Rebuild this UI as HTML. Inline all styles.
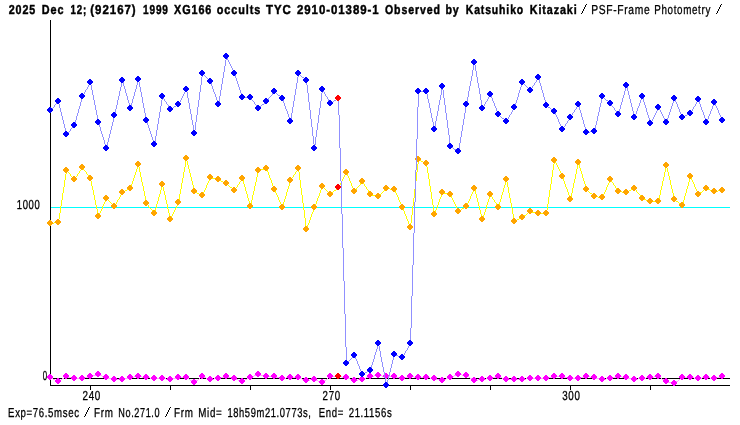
<!DOCTYPE html>
<html><head><meta charset="utf-8"><title>Light curve</title>
<style>
html,body{margin:0;padding:0;background:#fff;}
body{width:740px;height:425px;position:relative;overflow:hidden;font-family:"Liberation Sans",sans-serif;}
</style></head><body>
<svg width="740" height="425" viewBox="0 0 740 425" shape-rendering="crispEdges" style="position:absolute;left:0;top:0;will-change:transform">
<rect width="740" height="425" fill="#fff"/>
<rect x="50" y="20" width="1" height="366" fill="#000"/>
<rect x="50" y="385" width="680" height="1" fill="#000"/>
<rect x="51" y="378" width="679" height="1" fill="#000"/>
<rect x="51" y="207" width="679" height="1" fill="#00ffff"/>
<rect x="90" y="385" width="1" height="5" fill="#000"/>
<rect x="170" y="385" width="1" height="5" fill="#000"/>
<rect x="250" y="385" width="1" height="5" fill="#000"/>
<rect x="330" y="385" width="1" height="5" fill="#000"/>
<rect x="410" y="385" width="1" height="5" fill="#000"/>
<rect x="490" y="385" width="1" height="5" fill="#000"/>
<rect x="570" y="385" width="1" height="5" fill="#000"/>
<rect x="650" y="385" width="1" height="5" fill="#000"/>
<path fill="#ffa0ff" d="M50 377h1v1h-1zM51 378h2v1h-2zM53 379h2v1h-2zM55 380h2v1h-2zM57 381h2v1h-2zM58 381h1v1h-1zM59 380h2v1h-2zM61 379h1v1h-1zM62 378h2v1h-2zM64 377h2v1h-2zM66 376h1v1h-1zM66 376h2v1h-2zM68 377h4v1h-4zM72 378h3v1h-3zM74 378h9v1h-9zM82 378h2v1h-2zM84 377h4v1h-4zM88 376h3v1h-3zM90 376h2v1h-2zM92 375h4v1h-4zM96 374h3v1h-3zM98 374h2v1h-2zM100 375h2v1h-2zM102 376h3v1h-3zM105 377h2v1h-2zM106 377h2v1h-2zM108 378h4v1h-4zM112 379h3v1h-3zM114 379h9v1h-9zM122 379h2v1h-2zM124 378h4v1h-4zM128 377h3v1h-3zM130 377h4v1h-4zM134 376h5v1h-5zM138 376h4v1h-4zM142 377h5v1h-5zM146 377h4v1h-4zM150 378h5v1h-5zM154 378h9v1h-9zM162 378h4v1h-4zM166 379h5v1h-5zM170 379h2v1h-2zM172 378h4v1h-4zM176 377h3v1h-3zM178 377h9v1h-9zM186 377h1v1h-1zM187 378h2v1h-2zM189 379h1v1h-1zM190 380h2v1h-2zM192 381h2v1h-2zM194 382h1v1h-1zM194 382h1v1h-1zM195 381h1v1h-1zM196 380h2v1h-2zM198 379h1v1h-1zM199 378h1v1h-1zM200 377h2v1h-2zM202 376h1v1h-1zM202 376h2v1h-2zM204 377h2v1h-2zM206 378h3v1h-3zM209 379h2v1h-2zM210 379h4v1h-4zM214 378h5v1h-5zM218 378h2v1h-2zM220 377h4v1h-4zM224 376h3v1h-3zM226 376h2v1h-2zM228 377h4v1h-4zM232 378h3v1h-3zM234 378h2v1h-2zM236 379h2v1h-2zM238 380h3v1h-3zM241 381h2v1h-2zM242 381h1v1h-1zM243 380h2v1h-2zM245 379h2v1h-2zM247 378h2v1h-2zM249 377h2v1h-2zM250 377h2v1h-2zM252 376h2v1h-2zM254 375h3v1h-3zM257 374h2v1h-2zM258 374h2v1h-2zM260 375h4v1h-4zM264 376h3v1h-3zM266 376h9v1h-9zM274 376h2v1h-2zM276 377h4v1h-4zM280 378h3v1h-3zM282 378h4v1h-4zM286 377h5v1h-5zM290 377h9v1h-9zM298 377h2v1h-2zM300 378h2v1h-2zM302 379h3v1h-3zM305 380h2v1h-2zM306 380h4v1h-4zM310 379h5v1h-5zM314 379h2v1h-2zM316 380h2v1h-2zM318 381h3v1h-3zM321 382h2v1h-2zM322 382h1v1h-1zM323 381h1v1h-1zM324 380h2v1h-2zM326 379h1v1h-1zM327 378h1v1h-1zM328 377h2v1h-2zM330 376h1v1h-1zM330 376h9v1h-9zM338 376h4v1h-4zM342 377h5v1h-5zM346 377h2v1h-2zM348 378h2v1h-2zM350 379h3v1h-3zM353 380h2v1h-2zM354 380h4v1h-4zM358 379h5v1h-5zM362 379h2v1h-2zM364 378h2v1h-2zM366 377h3v1h-3zM369 376h2v1h-2zM370 376h4v1h-4zM374 375h5v1h-5zM378 375h4v1h-4zM382 376h5v1h-5zM386 376h9v1h-9zM394 376h2v1h-2zM396 377h4v1h-4zM400 378h3v1h-3zM402 378h2v1h-2zM404 377h4v1h-4zM408 376h3v1h-3zM410 376h4v1h-4zM414 377h5v1h-5zM418 377h9v1h-9zM426 377h4v1h-4zM430 378h5v1h-5zM434 378h2v1h-2zM436 379h4v1h-4zM440 380h3v1h-3zM442 380h2v1h-2zM444 379h2v1h-2zM446 378h3v1h-3zM449 377h2v1h-2zM450 377h2v1h-2zM452 376h2v1h-2zM454 375h3v1h-3zM457 374h2v1h-2zM458 374h4v1h-4zM462 375h5v1h-5zM466 375h1v1h-1zM467 376h2v1h-2zM469 377h1v1h-1zM470 378h2v1h-2zM472 379h2v1h-2zM474 380h1v1h-1zM474 380h4v1h-4zM478 379h5v1h-5zM482 379h4v1h-4zM486 378h5v1h-5zM490 378h2v1h-2zM492 377h4v1h-4zM496 376h3v1h-3zM498 376h2v1h-2zM500 377h2v1h-2zM502 378h3v1h-3zM505 379h2v1h-2zM506 379h9v1h-9zM514 379h9v1h-9zM522 379h4v1h-4zM526 378h5v1h-5zM530 378h9v1h-9zM538 378h9v1h-9zM546 378h2v1h-2zM548 377h4v1h-4zM552 376h3v1h-3zM554 376h9v1h-9zM562 376h2v1h-2zM564 377h4v1h-4zM568 378h3v1h-3zM570 378h9v1h-9zM578 378h2v1h-2zM580 377h4v1h-4zM584 376h3v1h-3zM586 376h4v1h-4zM590 377h5v1h-5zM594 377h2v1h-2zM596 378h4v1h-4zM600 379h3v1h-3zM602 379h4v1h-4zM606 378h5v1h-5zM610 378h2v1h-2zM612 377h4v1h-4zM616 376h3v1h-3zM618 376h4v1h-4zM622 377h5v1h-5zM626 377h2v1h-2zM628 378h4v1h-4zM632 379h3v1h-3zM634 379h4v1h-4zM638 378h5v1h-5zM642 378h4v1h-4zM646 377h5v1h-5zM650 377h4v1h-4zM654 376h5v1h-5zM658 376h1v1h-1zM659 377h2v1h-2zM661 378h1v1h-1zM662 379h2v1h-2zM664 380h2v1h-2zM666 381h1v1h-1zM666 381h2v1h-2zM668 382h4v1h-4zM672 383h3v1h-3zM674 383h1v1h-1zM675 382h1v1h-1zM676 381h2v1h-2zM678 380h1v1h-1zM679 379h1v1h-1zM680 378h2v1h-2zM682 377h1v1h-1zM682 377h9v1h-9zM690 377h4v1h-4zM694 378h5v1h-5zM698 378h4v1h-4zM702 377h5v1h-5zM706 377h4v1h-4zM710 378h5v1h-5zM714 378h2v1h-2zM716 377h4v1h-4zM720 376h3v1h-3z"/>
<path fill="#ff00ff" d="M49 374h2v1h1v1h1v2h-1v1h-1v1h-2v-1h-1v-1h-1v-2h1v-1h1z"/>
<path fill="#ff00ff" d="M57 378h2v1h1v1h1v2h-1v1h-1v1h-2v-1h-1v-1h-1v-2h1v-1h1z"/>
<path fill="#ff00ff" d="M65 373h2v1h1v1h1v2h-1v1h-1v1h-2v-1h-1v-1h-1v-2h1v-1h1z"/>
<path fill="#ff00ff" d="M73 375h2v1h1v1h1v2h-1v1h-1v1h-2v-1h-1v-1h-1v-2h1v-1h1z"/>
<path fill="#ff00ff" d="M81 375h2v1h1v1h1v2h-1v1h-1v1h-2v-1h-1v-1h-1v-2h1v-1h1z"/>
<path fill="#ff00ff" d="M89 373h2v1h1v1h1v2h-1v1h-1v1h-2v-1h-1v-1h-1v-2h1v-1h1z"/>
<path fill="#ff00ff" d="M97 371h2v1h1v1h1v2h-1v1h-1v1h-2v-1h-1v-1h-1v-2h1v-1h1z"/>
<path fill="#ff00ff" d="M105 374h2v1h1v1h1v2h-1v1h-1v1h-2v-1h-1v-1h-1v-2h1v-1h1z"/>
<path fill="#ff00ff" d="M113 376h2v1h1v1h1v2h-1v1h-1v1h-2v-1h-1v-1h-1v-2h1v-1h1z"/>
<path fill="#ff00ff" d="M121 376h2v1h1v1h1v2h-1v1h-1v1h-2v-1h-1v-1h-1v-2h1v-1h1z"/>
<path fill="#ff00ff" d="M129 374h2v1h1v1h1v2h-1v1h-1v1h-2v-1h-1v-1h-1v-2h1v-1h1z"/>
<path fill="#ff00ff" d="M137 373h2v1h1v1h1v2h-1v1h-1v1h-2v-1h-1v-1h-1v-2h1v-1h1z"/>
<path fill="#ff00ff" d="M145 374h2v1h1v1h1v2h-1v1h-1v1h-2v-1h-1v-1h-1v-2h1v-1h1z"/>
<path fill="#ff00ff" d="M153 375h2v1h1v1h1v2h-1v1h-1v1h-2v-1h-1v-1h-1v-2h1v-1h1z"/>
<path fill="#ff00ff" d="M161 375h2v1h1v1h1v2h-1v1h-1v1h-2v-1h-1v-1h-1v-2h1v-1h1z"/>
<path fill="#ff00ff" d="M169 376h2v1h1v1h1v2h-1v1h-1v1h-2v-1h-1v-1h-1v-2h1v-1h1z"/>
<path fill="#ff00ff" d="M177 374h2v1h1v1h1v2h-1v1h-1v1h-2v-1h-1v-1h-1v-2h1v-1h1z"/>
<path fill="#ff00ff" d="M185 374h2v1h1v1h1v2h-1v1h-1v1h-2v-1h-1v-1h-1v-2h1v-1h1z"/>
<path fill="#ff00ff" d="M193 379h2v1h1v1h1v2h-1v1h-1v1h-2v-1h-1v-1h-1v-2h1v-1h1z"/>
<path fill="#ff00ff" d="M201 373h2v1h1v1h1v2h-1v1h-1v1h-2v-1h-1v-1h-1v-2h1v-1h1z"/>
<path fill="#ff00ff" d="M209 376h2v1h1v1h1v2h-1v1h-1v1h-2v-1h-1v-1h-1v-2h1v-1h1z"/>
<path fill="#ff00ff" d="M217 375h2v1h1v1h1v2h-1v1h-1v1h-2v-1h-1v-1h-1v-2h1v-1h1z"/>
<path fill="#ff00ff" d="M225 373h2v1h1v1h1v2h-1v1h-1v1h-2v-1h-1v-1h-1v-2h1v-1h1z"/>
<path fill="#ff00ff" d="M233 375h2v1h1v1h1v2h-1v1h-1v1h-2v-1h-1v-1h-1v-2h1v-1h1z"/>
<path fill="#ff00ff" d="M241 378h2v1h1v1h1v2h-1v1h-1v1h-2v-1h-1v-1h-1v-2h1v-1h1z"/>
<path fill="#ff00ff" d="M249 374h2v1h1v1h1v2h-1v1h-1v1h-2v-1h-1v-1h-1v-2h1v-1h1z"/>
<path fill="#ff00ff" d="M257 371h2v1h1v1h1v2h-1v1h-1v1h-2v-1h-1v-1h-1v-2h1v-1h1z"/>
<path fill="#ff00ff" d="M265 373h2v1h1v1h1v2h-1v1h-1v1h-2v-1h-1v-1h-1v-2h1v-1h1z"/>
<path fill="#ff00ff" d="M273 373h2v1h1v1h1v2h-1v1h-1v1h-2v-1h-1v-1h-1v-2h1v-1h1z"/>
<path fill="#ff00ff" d="M281 375h2v1h1v1h1v2h-1v1h-1v1h-2v-1h-1v-1h-1v-2h1v-1h1z"/>
<path fill="#ff00ff" d="M289 374h2v1h1v1h1v2h-1v1h-1v1h-2v-1h-1v-1h-1v-2h1v-1h1z"/>
<path fill="#ff00ff" d="M297 374h2v1h1v1h1v2h-1v1h-1v1h-2v-1h-1v-1h-1v-2h1v-1h1z"/>
<path fill="#ff00ff" d="M305 377h2v1h1v1h1v2h-1v1h-1v1h-2v-1h-1v-1h-1v-2h1v-1h1z"/>
<path fill="#ff00ff" d="M313 376h2v1h1v1h1v2h-1v1h-1v1h-2v-1h-1v-1h-1v-2h1v-1h1z"/>
<path fill="#ff00ff" d="M321 379h2v1h1v1h1v2h-1v1h-1v1h-2v-1h-1v-1h-1v-2h1v-1h1z"/>
<path fill="#ff00ff" d="M329 373h2v1h1v1h1v2h-1v1h-1v1h-2v-1h-1v-1h-1v-2h1v-1h1z"/>
<path fill="#ff0000" d="M337 373h2v1h1v1h1v2h-1v1h-1v1h-2v-1h-1v-1h-1v-2h1v-1h1z"/>
<path fill="#ff00ff" d="M345 374h2v1h1v1h1v2h-1v1h-1v1h-2v-1h-1v-1h-1v-2h1v-1h1z"/>
<path fill="#ff00ff" d="M353 377h2v1h1v1h1v2h-1v1h-1v1h-2v-1h-1v-1h-1v-2h1v-1h1z"/>
<path fill="#ff00ff" d="M361 376h2v1h1v1h1v2h-1v1h-1v1h-2v-1h-1v-1h-1v-2h1v-1h1z"/>
<path fill="#ff00ff" d="M369 373h2v1h1v1h1v2h-1v1h-1v1h-2v-1h-1v-1h-1v-2h1v-1h1z"/>
<path fill="#ff00ff" d="M377 372h2v1h1v1h1v2h-1v1h-1v1h-2v-1h-1v-1h-1v-2h1v-1h1z"/>
<path fill="#ff00ff" d="M385 373h2v1h1v1h1v2h-1v1h-1v1h-2v-1h-1v-1h-1v-2h1v-1h1z"/>
<path fill="#ff00ff" d="M393 373h2v1h1v1h1v2h-1v1h-1v1h-2v-1h-1v-1h-1v-2h1v-1h1z"/>
<path fill="#ff00ff" d="M401 375h2v1h1v1h1v2h-1v1h-1v1h-2v-1h-1v-1h-1v-2h1v-1h1z"/>
<path fill="#ff00ff" d="M409 373h2v1h1v1h1v2h-1v1h-1v1h-2v-1h-1v-1h-1v-2h1v-1h1z"/>
<path fill="#ff00ff" d="M417 374h2v1h1v1h1v2h-1v1h-1v1h-2v-1h-1v-1h-1v-2h1v-1h1z"/>
<path fill="#ff00ff" d="M425 374h2v1h1v1h1v2h-1v1h-1v1h-2v-1h-1v-1h-1v-2h1v-1h1z"/>
<path fill="#ff00ff" d="M433 375h2v1h1v1h1v2h-1v1h-1v1h-2v-1h-1v-1h-1v-2h1v-1h1z"/>
<path fill="#ff00ff" d="M441 377h2v1h1v1h1v2h-1v1h-1v1h-2v-1h-1v-1h-1v-2h1v-1h1z"/>
<path fill="#ff00ff" d="M449 374h2v1h1v1h1v2h-1v1h-1v1h-2v-1h-1v-1h-1v-2h1v-1h1z"/>
<path fill="#ff00ff" d="M457 371h2v1h1v1h1v2h-1v1h-1v1h-2v-1h-1v-1h-1v-2h1v-1h1z"/>
<path fill="#ff00ff" d="M465 372h2v1h1v1h1v2h-1v1h-1v1h-2v-1h-1v-1h-1v-2h1v-1h1z"/>
<path fill="#ff00ff" d="M473 377h2v1h1v1h1v2h-1v1h-1v1h-2v-1h-1v-1h-1v-2h1v-1h1z"/>
<path fill="#ff00ff" d="M481 376h2v1h1v1h1v2h-1v1h-1v1h-2v-1h-1v-1h-1v-2h1v-1h1z"/>
<path fill="#ff00ff" d="M489 375h2v1h1v1h1v2h-1v1h-1v1h-2v-1h-1v-1h-1v-2h1v-1h1z"/>
<path fill="#ff00ff" d="M497 373h2v1h1v1h1v2h-1v1h-1v1h-2v-1h-1v-1h-1v-2h1v-1h1z"/>
<path fill="#ff00ff" d="M505 376h2v1h1v1h1v2h-1v1h-1v1h-2v-1h-1v-1h-1v-2h1v-1h1z"/>
<path fill="#ff00ff" d="M513 376h2v1h1v1h1v2h-1v1h-1v1h-2v-1h-1v-1h-1v-2h1v-1h1z"/>
<path fill="#ff00ff" d="M521 376h2v1h1v1h1v2h-1v1h-1v1h-2v-1h-1v-1h-1v-2h1v-1h1z"/>
<path fill="#ff00ff" d="M529 375h2v1h1v1h1v2h-1v1h-1v1h-2v-1h-1v-1h-1v-2h1v-1h1z"/>
<path fill="#ff00ff" d="M537 375h2v1h1v1h1v2h-1v1h-1v1h-2v-1h-1v-1h-1v-2h1v-1h1z"/>
<path fill="#ff00ff" d="M545 375h2v1h1v1h1v2h-1v1h-1v1h-2v-1h-1v-1h-1v-2h1v-1h1z"/>
<path fill="#ff00ff" d="M553 373h2v1h1v1h1v2h-1v1h-1v1h-2v-1h-1v-1h-1v-2h1v-1h1z"/>
<path fill="#ff00ff" d="M561 373h2v1h1v1h1v2h-1v1h-1v1h-2v-1h-1v-1h-1v-2h1v-1h1z"/>
<path fill="#ff00ff" d="M569 375h2v1h1v1h1v2h-1v1h-1v1h-2v-1h-1v-1h-1v-2h1v-1h1z"/>
<path fill="#ff00ff" d="M577 375h2v1h1v1h1v2h-1v1h-1v1h-2v-1h-1v-1h-1v-2h1v-1h1z"/>
<path fill="#ff00ff" d="M585 373h2v1h1v1h1v2h-1v1h-1v1h-2v-1h-1v-1h-1v-2h1v-1h1z"/>
<path fill="#ff00ff" d="M593 374h2v1h1v1h1v2h-1v1h-1v1h-2v-1h-1v-1h-1v-2h1v-1h1z"/>
<path fill="#ff00ff" d="M601 376h2v1h1v1h1v2h-1v1h-1v1h-2v-1h-1v-1h-1v-2h1v-1h1z"/>
<path fill="#ff00ff" d="M609 375h2v1h1v1h1v2h-1v1h-1v1h-2v-1h-1v-1h-1v-2h1v-1h1z"/>
<path fill="#ff00ff" d="M617 373h2v1h1v1h1v2h-1v1h-1v1h-2v-1h-1v-1h-1v-2h1v-1h1z"/>
<path fill="#ff00ff" d="M625 374h2v1h1v1h1v2h-1v1h-1v1h-2v-1h-1v-1h-1v-2h1v-1h1z"/>
<path fill="#ff00ff" d="M633 376h2v1h1v1h1v2h-1v1h-1v1h-2v-1h-1v-1h-1v-2h1v-1h1z"/>
<path fill="#ff00ff" d="M641 375h2v1h1v1h1v2h-1v1h-1v1h-2v-1h-1v-1h-1v-2h1v-1h1z"/>
<path fill="#ff00ff" d="M649 374h2v1h1v1h1v2h-1v1h-1v1h-2v-1h-1v-1h-1v-2h1v-1h1z"/>
<path fill="#ff00ff" d="M657 373h2v1h1v1h1v2h-1v1h-1v1h-2v-1h-1v-1h-1v-2h1v-1h1z"/>
<path fill="#ff00ff" d="M665 378h2v1h1v1h1v2h-1v1h-1v1h-2v-1h-1v-1h-1v-2h1v-1h1z"/>
<path fill="#ff00ff" d="M673 380h2v1h1v1h1v2h-1v1h-1v1h-2v-1h-1v-1h-1v-2h1v-1h1z"/>
<path fill="#ff00ff" d="M681 374h2v1h1v1h1v2h-1v1h-1v1h-2v-1h-1v-1h-1v-2h1v-1h1z"/>
<path fill="#ff00ff" d="M689 374h2v1h1v1h1v2h-1v1h-1v1h-2v-1h-1v-1h-1v-2h1v-1h1z"/>
<path fill="#ff00ff" d="M697 375h2v1h1v1h1v2h-1v1h-1v1h-2v-1h-1v-1h-1v-2h1v-1h1z"/>
<path fill="#ff00ff" d="M705 374h2v1h1v1h1v2h-1v1h-1v1h-2v-1h-1v-1h-1v-2h1v-1h1z"/>
<path fill="#ff00ff" d="M713 375h2v1h1v1h1v2h-1v1h-1v1h-2v-1h-1v-1h-1v-2h1v-1h1z"/>
<path fill="#ff00ff" d="M721 373h2v1h1v1h1v2h-1v1h-1v1h-2v-1h-1v-1h-1v-2h1v-1h1z"/>
<path fill="#ffff00" d="M50 223h4v1h-4zM54 222h5v1h-5zM58 219h1v4h-1zM59 213h1v6h-1zM60 206h1v7h-1zM61 200h1v6h-1zM62 193h1v7h-1zM63 187h1v6h-1zM64 180h1v7h-1zM65 174h1v6h-1zM66 170h1v4h-1zM66 170h1v1h-1zM67 171h1v1h-1zM68 172h1v1h-1zM69 173h1v1h-1zM70 174h1v2h-1zM71 176h1v1h-1zM72 177h1v1h-1zM73 178h1v1h-1zM74 179h1v1h-1zM74 179h1v1h-1zM75 177h1v2h-1zM76 176h1v1h-1zM77 174h1v2h-1zM78 173h1v1h-1zM79 171h1v2h-1zM80 170h1v1h-1zM81 168h1v2h-1zM82 167h1v1h-1zM82 167h1v1h-1zM83 168h1v2h-1zM84 170h1v1h-1zM85 171h1v1h-1zM86 172h1v2h-1zM87 174h1v1h-1zM88 175h1v1h-1zM89 176h1v2h-1zM90 178h1v1h-1zM90 178h1v3h-1zM91 181h1v5h-1zM92 186h1v4h-1zM93 190h1v5h-1zM94 195h1v5h-1zM95 200h1v5h-1zM96 205h1v4h-1zM97 209h1v5h-1zM98 214h1v3h-1zM98 215h1v2h-1zM99 213h1v2h-1zM100 211h1v2h-1zM101 209h1v2h-1zM102 206h1v3h-1zM103 204h1v2h-1zM104 202h1v2h-1zM105 200h1v2h-1zM106 198h1v2h-1zM106 198h1v1h-1zM107 199h1v1h-1zM108 200h1v1h-1zM109 201h1v1h-1zM110 202h1v1h-1zM111 203h1v1h-1zM112 204h1v1h-1zM113 205h1v1h-1zM114 206h1v1h-1zM114 206h1v1h-1zM115 204h1v2h-1zM116 202h1v2h-1zM117 200h1v2h-1zM118 199h1v1h-1zM119 197h1v2h-1zM120 195h1v2h-1zM121 193h1v2h-1zM122 192h1v1h-1zM122 192h1v1h-1zM123 191h2v1h-2zM125 190h2v1h-2zM127 189h2v1h-2zM129 188h2v1h-2zM130 187h1v2h-1zM131 184h1v3h-1zM132 181h1v3h-1zM133 178h1v3h-1zM134 175h1v3h-1zM135 172h1v3h-1zM136 169h1v3h-1zM137 166h1v3h-1zM138 164h1v2h-1zM138 164h1v3h-1zM139 167h1v5h-1zM140 172h1v5h-1zM141 177h1v5h-1zM142 182h1v4h-1zM143 186h1v5h-1zM144 191h1v5h-1zM145 196h1v5h-1zM146 201h1v3h-1zM146 203h1v1h-1zM147 204h1v1h-1zM148 205h1v2h-1zM149 207h1v1h-1zM150 208h1v1h-1zM151 209h1v1h-1zM152 210h1v2h-1zM153 212h1v1h-1zM154 213h1v1h-1zM154 212h1v2h-1zM155 208h1v4h-1zM156 204h1v4h-1zM157 201h1v3h-1zM158 197h1v4h-1zM159 194h1v3h-1zM160 190h1v4h-1zM161 186h1v4h-1zM162 184h1v2h-1zM162 184h1v3h-1zM163 187h1v4h-1zM164 191h1v4h-1zM165 195h1v5h-1zM166 200h1v4h-1zM167 204h1v5h-1zM168 209h1v4h-1zM169 213h1v4h-1zM170 217h1v3h-1zM170 218h1v2h-1zM171 216h1v2h-1zM172 214h1v2h-1zM173 212h1v2h-1zM174 210h1v2h-1zM175 208h1v2h-1zM176 206h1v2h-1zM177 204h1v2h-1zM178 202h1v2h-1zM178 200h1v3h-1zM179 194h1v6h-1zM180 189h1v5h-1zM181 183h1v6h-1zM182 178h1v5h-1zM183 172h1v6h-1zM184 167h1v5h-1zM185 161h1v6h-1zM186 158h1v3h-1zM186 158h1v3h-1zM187 161h1v4h-1zM188 165h1v4h-1zM189 169h1v4h-1zM190 173h1v4h-1zM191 177h1v4h-1zM192 181h1v4h-1zM193 185h1v4h-1zM194 189h1v3h-1zM194 191h1v1h-1zM195 192h2v1h-2zM197 193h2v1h-2zM199 194h2v1h-2zM201 195h2v1h-2zM202 194h1v2h-1zM203 192h1v2h-1zM204 190h1v2h-1zM205 188h1v2h-1zM206 185h1v3h-1zM207 183h1v2h-1zM208 181h1v2h-1zM209 179h1v2h-1zM210 177h1v2h-1zM210 177h2v1h-2zM212 178h4v1h-4zM216 179h3v1h-3zM218 179h1v1h-1zM219 180h2v1h-2zM221 181h2v1h-2zM223 182h2v1h-2zM225 183h2v1h-2zM226 183h1v1h-1zM227 184h1v1h-1zM228 185h1v1h-1zM229 186h1v1h-1zM230 187h2v1h-2zM232 188h1v1h-1zM233 189h1v1h-1zM234 190h1v1h-1zM234 190h1v1h-1zM235 188h1v2h-1zM236 187h1v1h-1zM237 185h1v2h-1zM238 184h1v1h-1zM239 182h1v2h-1zM240 181h1v1h-1zM241 179h1v2h-1zM242 178h1v1h-1zM242 178h1v2h-1zM243 180h1v4h-1zM244 184h1v3h-1zM245 187h1v4h-1zM246 191h1v3h-1zM247 194h1v4h-1zM248 198h1v3h-1zM249 201h1v4h-1zM250 205h1v2h-1zM250 204h1v3h-1zM251 200h1v4h-1zM252 195h1v5h-1zM253 191h1v4h-1zM254 186h1v5h-1zM255 182h1v4h-1zM256 177h1v5h-1zM257 173h1v4h-1zM258 170h1v3h-1zM258 170h2v1h-2zM260 169h4v1h-4zM264 168h3v1h-3zM266 168h1v2h-1zM267 170h1v2h-1zM268 172h1v3h-1zM269 175h1v3h-1zM270 178h1v2h-1zM271 180h1v3h-1zM272 183h1v3h-1zM273 186h1v2h-1zM274 188h1v2h-1zM274 189h1v2h-1zM275 191h1v2h-1zM276 193h1v2h-1zM277 195h1v2h-1zM278 197h1v3h-1zM279 200h1v2h-1zM280 202h1v2h-1zM281 204h1v2h-1zM282 206h1v2h-1zM282 206h1v2h-1zM283 202h1v4h-1zM284 199h1v3h-1zM285 196h1v3h-1zM286 192h1v4h-1zM287 189h1v3h-1zM288 186h1v3h-1zM289 182h1v4h-1zM290 180h1v2h-1zM290 180h1v1h-1zM291 178h1v2h-1zM292 177h1v1h-1zM293 175h1v2h-1zM294 174h1v1h-1zM295 172h1v2h-1zM296 171h1v1h-1zM297 169h1v2h-1zM298 168h1v1h-1zM298 168h1v4h-1zM299 172h1v8h-1zM300 180h1v8h-1zM301 188h1v7h-1zM302 195h1v8h-1zM303 203h1v7h-1zM304 210h1v8h-1zM305 218h1v8h-1zM306 226h1v4h-1zM306 228h1v2h-1zM307 225h1v3h-1zM308 223h1v2h-1zM309 220h1v3h-1zM310 217h1v3h-1zM311 214h1v3h-1zM312 212h1v2h-1zM313 209h1v3h-1zM314 207h1v2h-1zM314 206h1v2h-1zM315 204h1v2h-1zM316 201h1v3h-1zM317 198h1v3h-1zM318 196h1v2h-1zM319 193h1v3h-1zM320 190h1v3h-1zM321 188h1v2h-1zM322 186h1v2h-1zM322 186h1v1h-1zM323 187h1v1h-1zM324 188h1v1h-1zM325 189h1v1h-1zM326 190h1v1h-1zM327 191h1v1h-1zM328 192h1v1h-1zM329 193h1v1h-1zM330 194h1v1h-1zM330 194h1v1h-1zM331 193h1v1h-1zM332 192h1v1h-1zM333 191h1v1h-1zM334 190h2v1h-2zM336 189h1v1h-1zM337 188h1v1h-1zM338 187h1v1h-1zM338 187h1v1h-1zM339 185h1v2h-1zM340 183h1v2h-1zM341 181h1v2h-1zM342 179h1v2h-1zM343 177h1v2h-1zM344 175h1v2h-1zM345 173h1v2h-1zM346 172h1v1h-1zM346 172h1v2h-1zM347 174h1v2h-1zM348 176h1v2h-1zM349 178h1v3h-1zM350 181h1v2h-1zM351 183h1v3h-1zM352 186h1v2h-1zM353 188h1v2h-1zM354 190h1v2h-1zM354 191h1v1h-1zM355 190h1v1h-1zM356 188h1v2h-1zM357 187h1v1h-1zM358 186h1v1h-1zM359 185h1v1h-1zM360 183h1v2h-1zM361 182h1v1h-1zM362 181h1v1h-1zM362 181h1v1h-1zM363 182h1v2h-1zM364 184h1v2h-1zM365 186h1v1h-1zM366 187h1v2h-1zM367 189h1v1h-1zM368 190h1v2h-1zM369 192h1v2h-1zM370 194h1v1h-1zM370 194h2v1h-2zM372 195h4v1h-4zM376 196h3v1h-3zM378 196h1v1h-1zM379 195h1v1h-1zM380 194h1v1h-1zM381 193h1v1h-1zM382 192h1v1h-1zM383 191h1v1h-1zM384 190h1v1h-1zM385 189h1v1h-1zM386 188h1v1h-1zM386 188h4v1h-4zM390 189h5v1h-5zM394 189h1v2h-1zM395 191h1v2h-1zM396 193h1v2h-1zM397 195h1v2h-1zM398 197h1v3h-1zM399 200h1v2h-1zM400 202h1v2h-1zM401 204h1v2h-1zM402 206h1v2h-1zM402 207h1v2h-1zM403 209h1v2h-1zM404 211h1v3h-1zM405 214h1v2h-1zM406 216h1v3h-1zM407 219h1v2h-1zM408 221h1v3h-1zM409 224h1v2h-1zM410 226h1v2h-1zM410 223h1v5h-1zM411 215h1v8h-1zM412 206h1v9h-1zM413 198h1v8h-1zM414 189h1v9h-1zM415 181h1v8h-1zM416 172h1v9h-1zM417 164h1v8h-1zM418 159h1v5h-1zM418 159h1v1h-1zM419 160h2v1h-2zM421 161h2v1h-2zM423 162h2v1h-2zM425 163h2v1h-2zM426 163h1v4h-1zM427 167h1v6h-1zM428 173h1v6h-1zM429 179h1v7h-1zM430 186h1v6h-1zM431 192h1v7h-1zM432 199h1v6h-1zM433 205h1v6h-1zM434 211h1v4h-1zM434 213h1v2h-1zM435 210h1v3h-1zM436 208h1v2h-1zM437 205h1v3h-1zM438 202h1v3h-1zM439 199h1v3h-1zM440 197h1v2h-1zM441 194h1v3h-1zM442 192h1v2h-1zM442 192h2v1h-2zM444 193h4v1h-4zM448 194h3v1h-3zM450 194h1v2h-1zM451 196h1v2h-1zM452 198h1v2h-1zM453 200h1v2h-1zM454 202h1v2h-1zM455 204h1v2h-1zM456 206h1v2h-1zM457 208h1v2h-1zM458 210h1v2h-1zM458 211h1v1h-1zM459 210h2v1h-2zM461 209h1v1h-1zM462 208h2v1h-2zM464 207h2v1h-2zM466 206h1v1h-1zM466 205h1v2h-1zM467 203h1v2h-1zM468 201h1v2h-1zM469 199h1v2h-1zM470 196h1v3h-1zM471 194h1v2h-1zM472 192h1v2h-1zM473 190h1v2h-1zM474 188h1v2h-1zM474 188h1v2h-1zM475 190h1v4h-1zM476 194h1v4h-1zM477 198h1v4h-1zM478 202h1v4h-1zM479 206h1v4h-1zM480 210h1v4h-1zM481 214h1v4h-1zM482 218h1v2h-1zM482 218h1v2h-1zM483 215h1v3h-1zM484 212h1v3h-1zM485 209h1v3h-1zM486 205h1v4h-1zM487 202h1v3h-1zM488 199h1v3h-1zM489 196h1v3h-1zM490 194h1v2h-1zM490 194h1v1h-1zM491 195h1v2h-1zM492 197h1v2h-1zM493 199h1v1h-1zM494 200h1v2h-1zM495 202h1v1h-1zM496 203h1v2h-1zM497 205h1v2h-1zM498 207h1v1h-1zM498 206h1v2h-1zM499 202h1v4h-1zM500 199h1v3h-1zM501 195h1v4h-1zM502 192h1v3h-1zM503 188h1v4h-1zM504 185h1v3h-1zM505 181h1v4h-1zM506 179h1v2h-1zM506 179h1v3h-1zM507 182h1v5h-1zM508 187h1v6h-1zM509 193h1v5h-1zM510 198h1v5h-1zM511 203h1v5h-1zM512 208h1v6h-1zM513 214h1v5h-1zM514 219h1v3h-1zM514 221h1v1h-1zM515 220h2v1h-2zM517 219h2v1h-2zM519 218h2v1h-2zM521 217h2v1h-2zM522 217h1v1h-1zM523 216h1v1h-1zM524 215h2v1h-2zM526 214h1v1h-1zM527 213h1v1h-1zM528 212h2v1h-2zM530 211h1v1h-1zM530 211h2v1h-2zM532 212h4v1h-4zM536 213h3v1h-3zM538 213h9v1h-9zM546 210h1v4h-1zM547 204h1v6h-1zM548 197h1v7h-1zM549 190h1v7h-1zM550 184h1v6h-1zM551 177h1v7h-1zM552 170h1v7h-1zM553 164h1v6h-1zM554 160h1v4h-1zM554 160h1v1h-1zM555 161h1v2h-1zM556 163h1v2h-1zM557 165h1v2h-1zM558 167h1v2h-1zM559 169h1v2h-1zM560 171h1v2h-1zM561 173h1v2h-1zM562 175h1v2h-1zM562 176h1v2h-1zM563 178h1v3h-1zM564 181h1v3h-1zM565 184h1v3h-1zM566 187h1v2h-1zM567 189h1v3h-1zM568 192h1v3h-1zM569 195h1v3h-1zM570 198h1v2h-1zM570 197h1v3h-1zM571 193h1v4h-1zM572 188h1v5h-1zM573 183h1v5h-1zM574 179h1v4h-1zM575 174h1v5h-1zM576 169h1v5h-1zM577 165h1v4h-1zM578 162h1v3h-1zM578 162h1v2h-1zM579 164h1v4h-1zM580 168h1v3h-1zM581 171h1v3h-1zM582 174h1v4h-1zM583 178h1v3h-1zM584 181h1v3h-1zM585 184h1v4h-1zM586 188h1v2h-1zM586 189h1v1h-1zM587 190h1v1h-1zM588 191h1v1h-1zM589 192h1v1h-1zM590 193h2v1h-2zM592 194h1v1h-1zM593 195h1v1h-1zM594 196h1v1h-1zM594 196h4v1h-4zM598 197h5v1h-5zM602 196h1v2h-1zM603 194h1v2h-1zM604 192h1v2h-1zM605 190h1v2h-1zM606 187h1v3h-1zM607 185h1v2h-1zM608 183h1v2h-1zM609 181h1v2h-1zM610 179h1v2h-1zM610 179h1v1h-1zM611 180h1v2h-1zM612 182h1v1h-1zM613 183h1v2h-1zM614 185h1v1h-1zM615 186h1v2h-1zM616 188h1v1h-1zM617 189h1v2h-1zM618 191h1v1h-1zM618 191h4v1h-4zM622 192h5v1h-5zM626 192h1v1h-1zM627 191h2v1h-2zM629 190h2v1h-2zM631 189h2v1h-2zM633 188h2v1h-2zM634 188h1v1h-1zM635 189h1v1h-1zM636 190h1v2h-1zM637 192h1v1h-1zM638 193h1v1h-1zM639 194h1v1h-1zM640 195h1v2h-1zM641 197h1v1h-1zM642 198h1v1h-1zM642 198h2v1h-2zM644 199h2v1h-2zM646 200h3v1h-3zM649 201h2v1h-2zM650 201h9v1h-9zM658 199h1v3h-1zM659 195h1v4h-1zM660 190h1v5h-1zM661 186h1v4h-1zM662 181h1v5h-1zM663 177h1v4h-1zM664 172h1v5h-1zM665 168h1v4h-1zM666 165h1v3h-1zM666 165h1v3h-1zM667 168h1v4h-1zM668 172h1v4h-1zM669 176h1v4h-1zM670 180h1v5h-1zM671 185h1v4h-1zM672 189h1v4h-1zM673 193h1v4h-1zM674 197h1v3h-1zM674 199h1v1h-1zM675 200h1v1h-1zM676 201h2v1h-2zM678 202h1v1h-1zM679 203h1v1h-1zM680 204h2v1h-2zM682 205h1v1h-1zM682 204h1v2h-1zM683 200h1v4h-1zM684 196h1v4h-1zM685 193h1v3h-1zM686 189h1v4h-1zM687 186h1v3h-1zM688 182h1v4h-1zM689 178h1v4h-1zM690 176h1v2h-1zM690 176h1v2h-1zM691 178h1v2h-1zM692 180h1v2h-1zM693 182h1v2h-1zM694 184h1v3h-1zM695 187h1v2h-1zM696 189h1v2h-1zM697 191h1v2h-1zM698 193h1v2h-1zM698 194h1v1h-1zM699 193h1v1h-1zM700 192h2v1h-2zM702 191h1v1h-1zM703 190h1v1h-1zM704 189h2v1h-2zM706 188h1v1h-1zM706 188h2v1h-2zM708 189h2v1h-2zM710 190h3v1h-3zM713 191h2v1h-2zM714 191h4v1h-4zM718 190h5v1h-5z"/>
<path fill="#ffa500" d="M49 220h2v1h1v1h1v2h-1v1h-1v1h-2v-1h-1v-1h-1v-2h1v-1h1z"/>
<path fill="#ffa500" d="M57 219h2v1h1v1h1v2h-1v1h-1v1h-2v-1h-1v-1h-1v-2h1v-1h1z"/>
<path fill="#ffa500" d="M65 167h2v1h1v1h1v2h-1v1h-1v1h-2v-1h-1v-1h-1v-2h1v-1h1z"/>
<path fill="#ffa500" d="M73 176h2v1h1v1h1v2h-1v1h-1v1h-2v-1h-1v-1h-1v-2h1v-1h1z"/>
<path fill="#ffa500" d="M81 164h2v1h1v1h1v2h-1v1h-1v1h-2v-1h-1v-1h-1v-2h1v-1h1z"/>
<path fill="#ffa500" d="M89 175h2v1h1v1h1v2h-1v1h-1v1h-2v-1h-1v-1h-1v-2h1v-1h1z"/>
<path fill="#ffa500" d="M97 213h2v1h1v1h1v2h-1v1h-1v1h-2v-1h-1v-1h-1v-2h1v-1h1z"/>
<path fill="#ffa500" d="M105 195h2v1h1v1h1v2h-1v1h-1v1h-2v-1h-1v-1h-1v-2h1v-1h1z"/>
<path fill="#ffa500" d="M113 203h2v1h1v1h1v2h-1v1h-1v1h-2v-1h-1v-1h-1v-2h1v-1h1z"/>
<path fill="#ffa500" d="M121 189h2v1h1v1h1v2h-1v1h-1v1h-2v-1h-1v-1h-1v-2h1v-1h1z"/>
<path fill="#ffa500" d="M129 185h2v1h1v1h1v2h-1v1h-1v1h-2v-1h-1v-1h-1v-2h1v-1h1z"/>
<path fill="#ffa500" d="M137 161h2v1h1v1h1v2h-1v1h-1v1h-2v-1h-1v-1h-1v-2h1v-1h1z"/>
<path fill="#ffa500" d="M145 200h2v1h1v1h1v2h-1v1h-1v1h-2v-1h-1v-1h-1v-2h1v-1h1z"/>
<path fill="#ffa500" d="M153 210h2v1h1v1h1v2h-1v1h-1v1h-2v-1h-1v-1h-1v-2h1v-1h1z"/>
<path fill="#ffa500" d="M161 181h2v1h1v1h1v2h-1v1h-1v1h-2v-1h-1v-1h-1v-2h1v-1h1z"/>
<path fill="#ffa500" d="M169 216h2v1h1v1h1v2h-1v1h-1v1h-2v-1h-1v-1h-1v-2h1v-1h1z"/>
<path fill="#ffa500" d="M177 199h2v1h1v1h1v2h-1v1h-1v1h-2v-1h-1v-1h-1v-2h1v-1h1z"/>
<path fill="#ffa500" d="M185 155h2v1h1v1h1v2h-1v1h-1v1h-2v-1h-1v-1h-1v-2h1v-1h1z"/>
<path fill="#ffa500" d="M193 188h2v1h1v1h1v2h-1v1h-1v1h-2v-1h-1v-1h-1v-2h1v-1h1z"/>
<path fill="#ffa500" d="M201 192h2v1h1v1h1v2h-1v1h-1v1h-2v-1h-1v-1h-1v-2h1v-1h1z"/>
<path fill="#ffa500" d="M209 174h2v1h1v1h1v2h-1v1h-1v1h-2v-1h-1v-1h-1v-2h1v-1h1z"/>
<path fill="#ffa500" d="M217 176h2v1h1v1h1v2h-1v1h-1v1h-2v-1h-1v-1h-1v-2h1v-1h1z"/>
<path fill="#ffa500" d="M225 180h2v1h1v1h1v2h-1v1h-1v1h-2v-1h-1v-1h-1v-2h1v-1h1z"/>
<path fill="#ffa500" d="M233 187h2v1h1v1h1v2h-1v1h-1v1h-2v-1h-1v-1h-1v-2h1v-1h1z"/>
<path fill="#ffa500" d="M241 175h2v1h1v1h1v2h-1v1h-1v1h-2v-1h-1v-1h-1v-2h1v-1h1z"/>
<path fill="#ffa500" d="M249 203h2v1h1v1h1v2h-1v1h-1v1h-2v-1h-1v-1h-1v-2h1v-1h1z"/>
<path fill="#ffa500" d="M257 167h2v1h1v1h1v2h-1v1h-1v1h-2v-1h-1v-1h-1v-2h1v-1h1z"/>
<path fill="#ffa500" d="M265 165h2v1h1v1h1v2h-1v1h-1v1h-2v-1h-1v-1h-1v-2h1v-1h1z"/>
<path fill="#ffa500" d="M273 186h2v1h1v1h1v2h-1v1h-1v1h-2v-1h-1v-1h-1v-2h1v-1h1z"/>
<path fill="#ffa500" d="M281 204h2v1h1v1h1v2h-1v1h-1v1h-2v-1h-1v-1h-1v-2h1v-1h1z"/>
<path fill="#ffa500" d="M289 177h2v1h1v1h1v2h-1v1h-1v1h-2v-1h-1v-1h-1v-2h1v-1h1z"/>
<path fill="#ffa500" d="M297 165h2v1h1v1h1v2h-1v1h-1v1h-2v-1h-1v-1h-1v-2h1v-1h1z"/>
<path fill="#ffa500" d="M305 226h2v1h1v1h1v2h-1v1h-1v1h-2v-1h-1v-1h-1v-2h1v-1h1z"/>
<path fill="#ffa500" d="M313 204h2v1h1v1h1v2h-1v1h-1v1h-2v-1h-1v-1h-1v-2h1v-1h1z"/>
<path fill="#ffa500" d="M321 183h2v1h1v1h1v2h-1v1h-1v1h-2v-1h-1v-1h-1v-2h1v-1h1z"/>
<path fill="#ffa500" d="M329 191h2v1h1v1h1v2h-1v1h-1v1h-2v-1h-1v-1h-1v-2h1v-1h1z"/>
<path fill="#ff0000" d="M337 184h2v1h1v1h1v2h-1v1h-1v1h-2v-1h-1v-1h-1v-2h1v-1h1z"/>
<path fill="#ffa500" d="M345 169h2v1h1v1h1v2h-1v1h-1v1h-2v-1h-1v-1h-1v-2h1v-1h1z"/>
<path fill="#ffa500" d="M353 188h2v1h1v1h1v2h-1v1h-1v1h-2v-1h-1v-1h-1v-2h1v-1h1z"/>
<path fill="#ffa500" d="M361 178h2v1h1v1h1v2h-1v1h-1v1h-2v-1h-1v-1h-1v-2h1v-1h1z"/>
<path fill="#ffa500" d="M369 191h2v1h1v1h1v2h-1v1h-1v1h-2v-1h-1v-1h-1v-2h1v-1h1z"/>
<path fill="#ffa500" d="M377 193h2v1h1v1h1v2h-1v1h-1v1h-2v-1h-1v-1h-1v-2h1v-1h1z"/>
<path fill="#ffa500" d="M385 185h2v1h1v1h1v2h-1v1h-1v1h-2v-1h-1v-1h-1v-2h1v-1h1z"/>
<path fill="#ffa500" d="M393 186h2v1h1v1h1v2h-1v1h-1v1h-2v-1h-1v-1h-1v-2h1v-1h1z"/>
<path fill="#ffa500" d="M401 204h2v1h1v1h1v2h-1v1h-1v1h-2v-1h-1v-1h-1v-2h1v-1h1z"/>
<path fill="#ffa500" d="M409 224h2v1h1v1h1v2h-1v1h-1v1h-2v-1h-1v-1h-1v-2h1v-1h1z"/>
<path fill="#ffa500" d="M417 156h2v1h1v1h1v2h-1v1h-1v1h-2v-1h-1v-1h-1v-2h1v-1h1z"/>
<path fill="#ffa500" d="M425 160h2v1h1v1h1v2h-1v1h-1v1h-2v-1h-1v-1h-1v-2h1v-1h1z"/>
<path fill="#ffa500" d="M433 211h2v1h1v1h1v2h-1v1h-1v1h-2v-1h-1v-1h-1v-2h1v-1h1z"/>
<path fill="#ffa500" d="M441 189h2v1h1v1h1v2h-1v1h-1v1h-2v-1h-1v-1h-1v-2h1v-1h1z"/>
<path fill="#ffa500" d="M449 191h2v1h1v1h1v2h-1v1h-1v1h-2v-1h-1v-1h-1v-2h1v-1h1z"/>
<path fill="#ffa500" d="M457 208h2v1h1v1h1v2h-1v1h-1v1h-2v-1h-1v-1h-1v-2h1v-1h1z"/>
<path fill="#ffa500" d="M465 203h2v1h1v1h1v2h-1v1h-1v1h-2v-1h-1v-1h-1v-2h1v-1h1z"/>
<path fill="#ffa500" d="M473 185h2v1h1v1h1v2h-1v1h-1v1h-2v-1h-1v-1h-1v-2h1v-1h1z"/>
<path fill="#ffa500" d="M481 216h2v1h1v1h1v2h-1v1h-1v1h-2v-1h-1v-1h-1v-2h1v-1h1z"/>
<path fill="#ffa500" d="M489 191h2v1h1v1h1v2h-1v1h-1v1h-2v-1h-1v-1h-1v-2h1v-1h1z"/>
<path fill="#ffa500" d="M497 204h2v1h1v1h1v2h-1v1h-1v1h-2v-1h-1v-1h-1v-2h1v-1h1z"/>
<path fill="#ffa500" d="M505 176h2v1h1v1h1v2h-1v1h-1v1h-2v-1h-1v-1h-1v-2h1v-1h1z"/>
<path fill="#ffa500" d="M513 218h2v1h1v1h1v2h-1v1h-1v1h-2v-1h-1v-1h-1v-2h1v-1h1z"/>
<path fill="#ffa500" d="M521 214h2v1h1v1h1v2h-1v1h-1v1h-2v-1h-1v-1h-1v-2h1v-1h1z"/>
<path fill="#ffa500" d="M529 208h2v1h1v1h1v2h-1v1h-1v1h-2v-1h-1v-1h-1v-2h1v-1h1z"/>
<path fill="#ffa500" d="M537 210h2v1h1v1h1v2h-1v1h-1v1h-2v-1h-1v-1h-1v-2h1v-1h1z"/>
<path fill="#ffa500" d="M545 210h2v1h1v1h1v2h-1v1h-1v1h-2v-1h-1v-1h-1v-2h1v-1h1z"/>
<path fill="#ffa500" d="M553 157h2v1h1v1h1v2h-1v1h-1v1h-2v-1h-1v-1h-1v-2h1v-1h1z"/>
<path fill="#ffa500" d="M561 173h2v1h1v1h1v2h-1v1h-1v1h-2v-1h-1v-1h-1v-2h1v-1h1z"/>
<path fill="#ffa500" d="M569 196h2v1h1v1h1v2h-1v1h-1v1h-2v-1h-1v-1h-1v-2h1v-1h1z"/>
<path fill="#ffa500" d="M577 159h2v1h1v1h1v2h-1v1h-1v1h-2v-1h-1v-1h-1v-2h1v-1h1z"/>
<path fill="#ffa500" d="M585 186h2v1h1v1h1v2h-1v1h-1v1h-2v-1h-1v-1h-1v-2h1v-1h1z"/>
<path fill="#ffa500" d="M593 193h2v1h1v1h1v2h-1v1h-1v1h-2v-1h-1v-1h-1v-2h1v-1h1z"/>
<path fill="#ffa500" d="M601 194h2v1h1v1h1v2h-1v1h-1v1h-2v-1h-1v-1h-1v-2h1v-1h1z"/>
<path fill="#ffa500" d="M609 176h2v1h1v1h1v2h-1v1h-1v1h-2v-1h-1v-1h-1v-2h1v-1h1z"/>
<path fill="#ffa500" d="M617 188h2v1h1v1h1v2h-1v1h-1v1h-2v-1h-1v-1h-1v-2h1v-1h1z"/>
<path fill="#ffa500" d="M625 189h2v1h1v1h1v2h-1v1h-1v1h-2v-1h-1v-1h-1v-2h1v-1h1z"/>
<path fill="#ffa500" d="M633 185h2v1h1v1h1v2h-1v1h-1v1h-2v-1h-1v-1h-1v-2h1v-1h1z"/>
<path fill="#ffa500" d="M641 195h2v1h1v1h1v2h-1v1h-1v1h-2v-1h-1v-1h-1v-2h1v-1h1z"/>
<path fill="#ffa500" d="M649 198h2v1h1v1h1v2h-1v1h-1v1h-2v-1h-1v-1h-1v-2h1v-1h1z"/>
<path fill="#ffa500" d="M657 198h2v1h1v1h1v2h-1v1h-1v1h-2v-1h-1v-1h-1v-2h1v-1h1z"/>
<path fill="#ffa500" d="M665 162h2v1h1v1h1v2h-1v1h-1v1h-2v-1h-1v-1h-1v-2h1v-1h1z"/>
<path fill="#ffa500" d="M673 196h2v1h1v1h1v2h-1v1h-1v1h-2v-1h-1v-1h-1v-2h1v-1h1z"/>
<path fill="#ffa500" d="M681 202h2v1h1v1h1v2h-1v1h-1v1h-2v-1h-1v-1h-1v-2h1v-1h1z"/>
<path fill="#ffa500" d="M689 173h2v1h1v1h1v2h-1v1h-1v1h-2v-1h-1v-1h-1v-2h1v-1h1z"/>
<path fill="#ffa500" d="M697 191h2v1h1v1h1v2h-1v1h-1v1h-2v-1h-1v-1h-1v-2h1v-1h1z"/>
<path fill="#ffa500" d="M705 185h2v1h1v1h1v2h-1v1h-1v1h-2v-1h-1v-1h-1v-2h1v-1h1z"/>
<path fill="#ffa500" d="M713 188h2v1h1v1h1v2h-1v1h-1v1h-2v-1h-1v-1h-1v-2h1v-1h1z"/>
<path fill="#ffa500" d="M721 187h2v1h1v1h1v2h-1v1h-1v1h-2v-1h-1v-1h-1v-2h1v-1h1z"/>
<path fill="#9090ff" d="M50 110h1v1h-1zM51 109h1v1h-1zM52 108h1v1h-1zM53 107h1v1h-1zM54 105h1v2h-1zM55 104h1v1h-1zM56 103h1v1h-1zM57 102h1v1h-1zM58 101h1v1h-1zM58 101h1v3h-1zM59 104h1v4h-1zM60 108h1v4h-1zM61 112h1v4h-1zM62 116h1v4h-1zM63 120h1v4h-1zM64 124h1v4h-1zM65 128h1v4h-1zM66 132h1v3h-1zM66 134h1v1h-1zM67 133h1v1h-1zM68 132h1v1h-1zM69 131h1v1h-1zM70 129h1v2h-1zM71 128h1v1h-1zM72 127h1v1h-1zM73 126h1v1h-1zM74 125h1v1h-1zM74 124h1v2h-1zM75 120h1v4h-1zM76 116h1v4h-1zM77 113h1v3h-1zM78 109h1v4h-1zM79 106h1v3h-1zM80 102h1v4h-1zM81 98h1v4h-1zM82 96h1v2h-1zM82 96h1v1h-1zM83 94h1v2h-1zM84 92h1v2h-1zM85 90h1v2h-1zM86 89h1v1h-1zM87 87h1v2h-1zM88 85h1v2h-1zM89 83h1v2h-1zM90 82h1v1h-1zM90 82h1v3h-1zM91 85h1v5h-1zM92 90h1v5h-1zM93 95h1v5h-1zM94 100h1v5h-1zM95 105h1v5h-1zM96 110h1v5h-1zM97 115h1v5h-1zM98 120h1v3h-1zM98 122h1v2h-1zM99 124h1v3h-1zM100 127h1v4h-1zM101 131h1v3h-1zM102 134h1v3h-1zM103 137h1v3h-1zM104 140h1v4h-1zM105 144h1v3h-1zM106 147h1v2h-1zM106 146h1v3h-1zM107 142h1v4h-1zM108 138h1v4h-1zM109 134h1v4h-1zM110 130h1v4h-1zM111 126h1v4h-1zM112 122h1v4h-1zM113 118h1v4h-1zM114 115h1v3h-1zM114 113h1v3h-1zM115 109h1v4h-1zM116 105h1v4h-1zM117 100h1v5h-1zM118 96h1v4h-1zM119 91h1v5h-1zM120 87h1v4h-1zM121 83h1v4h-1zM122 80h1v3h-1zM122 80h1v2h-1zM123 82h1v4h-1zM124 86h1v3h-1zM125 89h1v4h-1zM126 93h1v3h-1zM127 96h1v4h-1zM128 100h1v3h-1zM129 103h1v4h-1zM130 107h1v2h-1zM130 107h1v2h-1zM131 103h1v4h-1zM132 99h1v4h-1zM133 96h1v3h-1zM134 92h1v4h-1zM135 89h1v3h-1zM136 85h1v4h-1zM137 81h1v4h-1zM138 79h1v2h-1zM138 79h1v3h-1zM139 82h1v5h-1zM140 87h1v5h-1zM141 92h1v5h-1zM142 97h1v6h-1zM143 103h1v5h-1zM144 108h1v5h-1zM145 113h1v5h-1zM146 118h1v3h-1zM146 120h1v2h-1zM147 122h1v3h-1zM148 125h1v3h-1zM149 128h1v3h-1zM150 131h1v3h-1zM151 134h1v3h-1zM152 137h1v3h-1zM153 140h1v3h-1zM154 143h1v2h-1zM154 142h1v3h-1zM155 136h1v6h-1zM156 130h1v6h-1zM157 124h1v6h-1zM158 118h1v6h-1zM159 112h1v6h-1zM160 106h1v6h-1zM161 100h1v6h-1zM162 96h1v4h-1zM162 96h1v1h-1zM163 97h1v2h-1zM164 99h1v2h-1zM165 101h1v1h-1zM166 102h1v2h-1zM167 104h1v1h-1zM168 105h1v2h-1zM169 107h1v2h-1zM170 109h1v1h-1zM170 109h1v1h-1zM171 108h2v1h-2zM173 107h1v1h-1zM174 106h2v1h-2zM176 105h2v1h-2zM178 104h1v1h-1zM178 104h1v1h-1zM179 102h1v2h-1zM180 100h1v2h-1zM181 98h1v2h-1zM182 96h1v2h-1zM183 94h1v2h-1zM184 92h1v2h-1zM185 90h1v2h-1zM186 89h1v1h-1zM186 89h1v3h-1zM187 92h1v6h-1zM188 98h1v5h-1zM189 103h1v6h-1zM190 109h1v5h-1zM191 114h1v6h-1zM192 120h1v5h-1zM193 125h1v6h-1zM194 131h1v3h-1zM194 130h1v4h-1zM195 122h1v8h-1zM196 115h1v7h-1zM197 107h1v8h-1zM198 100h1v7h-1zM199 92h1v8h-1zM200 85h1v7h-1zM201 77h1v8h-1zM202 73h1v4h-1zM202 73h1v1h-1zM203 74h1v1h-1zM204 75h1v1h-1zM205 76h1v1h-1zM206 77h1v1h-1zM207 78h1v1h-1zM208 79h1v1h-1zM209 80h1v1h-1zM210 81h1v1h-1zM210 81h1v2h-1zM211 83h1v3h-1zM212 86h1v3h-1zM213 89h1v3h-1zM214 92h1v2h-1zM215 94h1v3h-1zM216 97h1v3h-1zM217 100h1v3h-1zM218 103h1v2h-1zM218 102h1v3h-1zM219 96h1v6h-1zM220 90h1v6h-1zM221 84h1v6h-1zM222 78h1v6h-1zM223 72h1v6h-1zM224 66h1v6h-1zM225 60h1v6h-1zM226 56h1v4h-1zM226 56h1v2h-1zM227 58h1v2h-1zM228 60h1v2h-1zM229 62h1v2h-1zM230 64h1v2h-1zM231 66h1v2h-1zM232 68h1v2h-1zM233 70h1v2h-1zM234 72h1v2h-1zM234 73h1v2h-1zM235 75h1v3h-1zM236 78h1v3h-1zM237 81h1v3h-1zM238 84h1v3h-1zM239 87h1v3h-1zM240 90h1v3h-1zM241 93h1v3h-1zM242 96h1v2h-1zM242 97h9v1h-9zM250 97h1v1h-1zM251 98h1v2h-1zM252 100h1v1h-1zM253 101h1v1h-1zM254 102h1v2h-1zM255 104h1v1h-1zM256 105h1v1h-1zM257 106h1v2h-1zM258 108h1v1h-1zM258 108h1v1h-1zM259 107h1v1h-1zM260 106h1v1h-1zM261 105h1v1h-1zM262 104h2v1h-2zM264 103h1v1h-1zM265 102h1v1h-1zM266 101h1v1h-1zM266 101h1v1h-1zM267 100h1v1h-1zM268 98h1v2h-1zM269 97h1v1h-1zM270 96h1v1h-1zM271 95h1v1h-1zM272 93h1v2h-1zM273 92h1v1h-1zM274 91h1v1h-1zM274 91h1v1h-1zM275 92h1v1h-1zM276 93h1v1h-1zM277 94h1v1h-1zM278 95h2v1h-2zM280 96h1v1h-1zM281 97h1v1h-1zM282 98h1v1h-1zM282 98h1v2h-1zM283 100h1v3h-1zM284 103h1v3h-1zM285 106h1v3h-1zM286 109h1v2h-1zM287 111h1v3h-1zM288 114h1v3h-1zM289 117h1v3h-1zM290 120h1v2h-1zM290 119h1v3h-1zM291 113h1v6h-1zM292 107h1v6h-1zM293 101h1v6h-1zM294 95h1v6h-1zM295 89h1v6h-1zM296 83h1v6h-1zM297 77h1v6h-1zM298 73h1v4h-1zM298 73h1v1h-1zM299 74h1v1h-1zM300 75h1v1h-1zM301 76h1v1h-1zM302 77h2v1h-2zM304 78h1v1h-1zM305 79h1v1h-1zM306 80h1v1h-1zM306 80h1v5h-1zM307 85h1v8h-1zM308 93h1v9h-1zM309 102h1v8h-1zM310 110h1v9h-1zM311 119h1v8h-1zM312 127h1v9h-1zM313 136h1v8h-1zM314 144h1v5h-1zM314 145h1v4h-1zM315 137h1v8h-1zM316 130h1v7h-1zM317 123h1v7h-1zM318 115h1v8h-1zM319 108h1v7h-1zM320 101h1v7h-1zM321 93h1v8h-1zM322 89h1v4h-1zM322 89h1v1h-1zM323 90h1v2h-1zM324 92h1v2h-1zM325 94h1v2h-1zM326 96h1v1h-1zM327 97h1v2h-1zM328 99h1v2h-1zM329 101h1v2h-1zM330 103h1v1h-1zM330 103h1v1h-1zM331 102h2v1h-2zM333 101h1v1h-1zM334 100h2v1h-2zM336 99h2v1h-2zM338 98h1v1h-1zM338 98h1v17h-1zM339 115h1v33h-1zM340 148h1v33h-1zM341 181h1v33h-1zM342 214h1v34h-1zM343 248h1v33h-1zM344 281h1v33h-1zM345 314h1v33h-1zM346 347h1v17h-1zM346 363h1v1h-1zM347 362h1v1h-1zM348 361h1v1h-1zM349 360h1v1h-1zM350 359h1v1h-1zM351 358h1v1h-1zM352 357h1v1h-1zM353 356h1v1h-1zM354 355h1v1h-1zM354 355h1v2h-1zM355 357h1v2h-1zM356 359h1v2h-1zM357 361h1v3h-1zM358 364h1v2h-1zM359 366h1v3h-1zM360 369h1v2h-1zM361 371h1v2h-1zM362 373h1v2h-1zM362 374h1v1h-1zM363 373h2v1h-2zM365 372h2v1h-2zM367 371h2v1h-2zM369 370h2v1h-2zM370 369h1v2h-1zM371 365h1v4h-1zM372 362h1v3h-1zM373 359h1v3h-1zM374 355h1v4h-1zM375 352h1v3h-1zM376 349h1v3h-1zM377 345h1v4h-1zM378 343h1v2h-1zM378 343h1v3h-1zM379 346h1v5h-1zM380 351h1v6h-1zM381 357h1v5h-1zM382 362h1v5h-1zM383 367h1v5h-1zM384 372h1v6h-1zM385 378h1v5h-1zM386 383h1v3h-1zM386 384h1v2h-1zM387 380h1v4h-1zM388 376h1v4h-1zM389 372h1v4h-1zM390 368h1v4h-1zM391 364h1v4h-1zM392 360h1v4h-1zM393 356h1v4h-1zM394 354h1v2h-1zM394 354h2v1h-2zM396 355h2v1h-2zM398 356h3v1h-3zM401 357h2v1h-2zM402 357h1v1h-1zM403 355h1v2h-1zM404 353h1v2h-1zM405 351h1v2h-1zM406 350h1v1h-1zM407 348h1v2h-1zM408 346h1v2h-1zM409 344h1v2h-1zM410 343h1v1h-1zM410 328h1v16h-1zM411 296h1v32h-1zM412 265h1v31h-1zM413 233h1v32h-1zM414 202h1v31h-1zM415 170h1v32h-1zM416 139h1v31h-1zM417 107h1v32h-1zM418 91h1v16h-1zM418 91h9v1h-9zM426 91h1v3h-1zM427 94h1v5h-1zM428 99h1v4h-1zM429 103h1v5h-1zM430 108h1v5h-1zM431 113h1v5h-1zM432 118h1v4h-1zM433 122h1v5h-1zM434 127h1v3h-1zM434 127h1v3h-1zM435 121h1v6h-1zM436 116h1v5h-1zM437 111h1v5h-1zM438 105h1v6h-1zM439 100h1v5h-1zM440 95h1v5h-1zM441 89h1v6h-1zM442 86h1v3h-1zM442 86h1v4h-1zM443 90h1v8h-1zM444 98h1v7h-1zM445 105h1v8h-1zM446 113h1v7h-1zM447 120h1v8h-1zM448 128h1v7h-1zM449 135h1v8h-1zM450 143h1v4h-1zM450 146h1v1h-1zM451 147h2v1h-2zM453 148h1v1h-1zM454 149h2v1h-2zM456 150h2v1h-2zM458 151h1v1h-1zM458 149h1v3h-1zM459 143h1v6h-1zM460 137h1v6h-1zM461 131h1v6h-1zM462 125h1v6h-1zM463 119h1v6h-1zM464 113h1v6h-1zM465 107h1v6h-1zM466 104h1v3h-1zM466 102h1v3h-1zM467 97h1v5h-1zM468 91h1v6h-1zM469 86h1v5h-1zM470 81h1v5h-1zM471 76h1v5h-1zM472 70h1v6h-1zM473 65h1v5h-1zM474 62h1v3h-1zM474 62h1v3h-1zM475 65h1v6h-1zM476 71h1v6h-1zM477 77h1v6h-1zM478 83h1v5h-1zM479 88h1v6h-1zM480 94h1v6h-1zM481 100h1v6h-1zM482 106h1v3h-1zM482 108h1v1h-1zM483 106h1v2h-1zM484 104h1v2h-1zM485 102h1v2h-1zM486 101h1v1h-1zM487 99h1v2h-1zM488 97h1v2h-1zM489 95h1v2h-1zM490 94h1v1h-1zM490 94h1v2h-1zM491 96h1v2h-1zM492 98h1v3h-1zM493 101h1v2h-1zM494 103h1v3h-1zM495 106h1v2h-1zM496 108h1v3h-1zM497 111h1v2h-1zM498 113h1v2h-1zM498 114h1v1h-1zM499 115h1v1h-1zM500 116h1v1h-1zM501 117h1v1h-1zM502 118h2v1h-2zM504 119h1v1h-1zM505 120h1v1h-1zM506 121h1v1h-1zM506 121h1v1h-1zM507 119h1v2h-1zM508 117h1v2h-1zM509 115h1v2h-1zM510 114h1v1h-1zM511 112h1v2h-1zM512 110h1v2h-1zM513 108h1v2h-1zM514 107h1v1h-1zM514 106h1v2h-1zM515 103h1v3h-1zM516 100h1v3h-1zM517 97h1v3h-1zM518 93h1v4h-1zM519 90h1v3h-1zM520 87h1v3h-1zM521 84h1v3h-1zM522 82h1v2h-1zM522 82h1v1h-1zM523 83h1v1h-1zM524 84h1v1h-1zM525 85h1v1h-1zM526 86h1v1h-1zM527 87h1v1h-1zM528 88h1v1h-1zM529 89h1v1h-1zM530 90h1v1h-1zM530 90h1v1h-1zM531 88h1v2h-1zM532 86h1v2h-1zM533 85h1v1h-1zM534 83h1v2h-1zM535 82h1v1h-1zM536 80h1v2h-1zM537 78h1v2h-1zM538 77h1v1h-1zM538 77h1v2h-1zM539 79h1v4h-1zM540 83h1v3h-1zM541 86h1v4h-1zM542 90h1v3h-1zM543 93h1v4h-1zM544 97h1v3h-1zM545 100h1v4h-1zM546 104h1v2h-1zM546 105h1v1h-1zM547 106h1v1h-1zM548 107h2v1h-2zM550 108h1v1h-1zM551 109h1v1h-1zM552 110h2v1h-2zM554 111h1v1h-1zM554 111h1v2h-1zM555 113h1v2h-1zM556 115h1v2h-1zM557 117h1v2h-1zM558 119h1v3h-1zM559 122h1v2h-1zM560 124h1v2h-1zM561 126h1v2h-1zM562 128h1v2h-1zM562 129h1v1h-1zM563 127h1v2h-1zM564 126h1v1h-1zM565 124h1v2h-1zM566 123h1v1h-1zM567 121h1v2h-1zM568 120h1v1h-1zM569 118h1v2h-1zM570 117h1v1h-1zM570 117h1v1h-1zM571 115h1v2h-1zM572 113h1v2h-1zM573 112h1v1h-1zM574 110h1v2h-1zM575 109h1v1h-1zM576 107h1v2h-1zM577 105h1v2h-1zM578 104h1v1h-1zM578 104h1v2h-1zM579 106h1v4h-1zM580 110h1v3h-1zM581 113h1v4h-1zM582 117h1v3h-1zM583 120h1v4h-1zM584 124h1v3h-1zM585 127h1v4h-1zM586 131h1v2h-1zM586 132h4v1h-4zM590 131h5v1h-5zM594 129h1v3h-1zM595 125h1v4h-1zM596 121h1v4h-1zM597 116h1v5h-1zM598 112h1v4h-1zM599 107h1v5h-1zM600 103h1v4h-1zM601 99h1v4h-1zM602 96h1v3h-1zM602 96h1v1h-1zM603 97h1v1h-1zM604 98h1v1h-1zM605 99h1v1h-1zM606 100h2v1h-2zM608 101h1v1h-1zM609 102h1v1h-1zM610 103h1v1h-1zM610 103h1v1h-1zM611 104h1v2h-1zM612 106h1v1h-1zM613 107h1v1h-1zM614 108h1v2h-1zM615 110h1v1h-1zM616 111h1v1h-1zM617 112h1v2h-1zM618 114h1v1h-1zM618 113h1v2h-1zM619 109h1v4h-1zM620 105h1v4h-1zM621 102h1v3h-1zM622 98h1v4h-1zM623 95h1v3h-1zM624 91h1v4h-1zM625 87h1v4h-1zM626 85h1v2h-1zM626 85h1v2h-1zM627 87h1v4h-1zM628 91h1v4h-1zM629 95h1v4h-1zM630 99h1v4h-1zM631 103h1v4h-1zM632 107h1v4h-1zM633 111h1v4h-1zM634 115h1v3h-1zM634 116h1v2h-1zM635 114h1v2h-1zM636 111h1v3h-1zM637 108h1v3h-1zM638 106h1v2h-1zM639 103h1v3h-1zM640 100h1v3h-1zM641 98h1v2h-1zM642 96h1v2h-1zM642 96h1v2h-1zM643 98h1v4h-1zM644 102h1v3h-1zM645 105h1v3h-1zM646 108h1v4h-1zM647 112h1v3h-1zM648 115h1v3h-1zM649 118h1v4h-1zM650 122h1v2h-1zM650 123h1v1h-1zM651 121h1v2h-1zM652 119h1v2h-1zM653 117h1v2h-1zM654 115h1v2h-1zM655 113h1v2h-1zM656 111h1v2h-1zM657 109h1v2h-1zM658 107h1v2h-1zM658 107h1v1h-1zM659 108h1v2h-1zM660 110h1v2h-1zM661 112h1v2h-1zM662 114h1v2h-1zM663 116h1v2h-1zM664 118h1v2h-1zM665 120h1v2h-1zM666 122h1v1h-1zM666 121h1v2h-1zM667 118h1v3h-1zM668 115h1v3h-1zM669 112h1v3h-1zM670 109h1v3h-1zM671 106h1v3h-1zM672 103h1v3h-1zM673 100h1v3h-1zM674 98h1v2h-1zM674 98h1v2h-1zM675 100h1v2h-1zM676 102h1v2h-1zM677 104h1v3h-1zM678 107h1v2h-1zM679 109h1v3h-1zM680 112h1v2h-1zM681 114h1v2h-1zM682 116h1v2h-1zM682 117h1v1h-1zM683 116h2v1h-2zM685 115h2v1h-2zM687 114h2v1h-2zM689 113h2v1h-2zM690 113h1v1h-1zM691 111h1v2h-1zM692 109h1v2h-1zM693 107h1v2h-1zM694 106h1v1h-1zM695 104h1v2h-1zM696 102h1v2h-1zM697 100h1v2h-1zM698 99h1v1h-1zM698 99h1v2h-1zM699 101h1v3h-1zM700 104h1v3h-1zM701 107h1v3h-1zM702 110h1v2h-1zM703 112h1v3h-1zM704 115h1v3h-1zM705 118h1v3h-1zM706 121h1v2h-1zM706 121h1v2h-1zM707 119h1v2h-1zM708 116h1v3h-1zM709 114h1v2h-1zM710 111h1v3h-1zM711 109h1v2h-1zM712 106h1v3h-1zM713 104h1v2h-1zM714 102h1v2h-1zM714 102h1v2h-1zM715 104h1v2h-1zM716 106h1v2h-1zM717 108h1v2h-1zM718 110h1v3h-1zM719 113h1v2h-1zM720 115h1v2h-1zM721 117h1v2h-1zM722 119h1v2h-1z"/>
<path fill="#0000ff" d="M49 107h2v1h1v1h1v2h-1v1h-1v1h-2v-1h-1v-1h-1v-2h1v-1h1z"/>
<path fill="#0000ff" d="M57 98h2v1h1v1h1v2h-1v1h-1v1h-2v-1h-1v-1h-1v-2h1v-1h1z"/>
<path fill="#0000ff" d="M65 131h2v1h1v1h1v2h-1v1h-1v1h-2v-1h-1v-1h-1v-2h1v-1h1z"/>
<path fill="#0000ff" d="M73 122h2v1h1v1h1v2h-1v1h-1v1h-2v-1h-1v-1h-1v-2h1v-1h1z"/>
<path fill="#0000ff" d="M81 93h2v1h1v1h1v2h-1v1h-1v1h-2v-1h-1v-1h-1v-2h1v-1h1z"/>
<path fill="#0000ff" d="M89 79h2v1h1v1h1v2h-1v1h-1v1h-2v-1h-1v-1h-1v-2h1v-1h1z"/>
<path fill="#0000ff" d="M97 119h2v1h1v1h1v2h-1v1h-1v1h-2v-1h-1v-1h-1v-2h1v-1h1z"/>
<path fill="#0000ff" d="M105 145h2v1h1v1h1v2h-1v1h-1v1h-2v-1h-1v-1h-1v-2h1v-1h1z"/>
<path fill="#0000ff" d="M113 112h2v1h1v1h1v2h-1v1h-1v1h-2v-1h-1v-1h-1v-2h1v-1h1z"/>
<path fill="#0000ff" d="M121 77h2v1h1v1h1v2h-1v1h-1v1h-2v-1h-1v-1h-1v-2h1v-1h1z"/>
<path fill="#0000ff" d="M129 105h2v1h1v1h1v2h-1v1h-1v1h-2v-1h-1v-1h-1v-2h1v-1h1z"/>
<path fill="#0000ff" d="M137 76h2v1h1v1h1v2h-1v1h-1v1h-2v-1h-1v-1h-1v-2h1v-1h1z"/>
<path fill="#0000ff" d="M145 117h2v1h1v1h1v2h-1v1h-1v1h-2v-1h-1v-1h-1v-2h1v-1h1z"/>
<path fill="#0000ff" d="M153 141h2v1h1v1h1v2h-1v1h-1v1h-2v-1h-1v-1h-1v-2h1v-1h1z"/>
<path fill="#0000ff" d="M161 93h2v1h1v1h1v2h-1v1h-1v1h-2v-1h-1v-1h-1v-2h1v-1h1z"/>
<path fill="#0000ff" d="M169 106h2v1h1v1h1v2h-1v1h-1v1h-2v-1h-1v-1h-1v-2h1v-1h1z"/>
<path fill="#0000ff" d="M177 101h2v1h1v1h1v2h-1v1h-1v1h-2v-1h-1v-1h-1v-2h1v-1h1z"/>
<path fill="#0000ff" d="M185 86h2v1h1v1h1v2h-1v1h-1v1h-2v-1h-1v-1h-1v-2h1v-1h1z"/>
<path fill="#0000ff" d="M193 130h2v1h1v1h1v2h-1v1h-1v1h-2v-1h-1v-1h-1v-2h1v-1h1z"/>
<path fill="#0000ff" d="M201 70h2v1h1v1h1v2h-1v1h-1v1h-2v-1h-1v-1h-1v-2h1v-1h1z"/>
<path fill="#0000ff" d="M209 78h2v1h1v1h1v2h-1v1h-1v1h-2v-1h-1v-1h-1v-2h1v-1h1z"/>
<path fill="#0000ff" d="M217 101h2v1h1v1h1v2h-1v1h-1v1h-2v-1h-1v-1h-1v-2h1v-1h1z"/>
<path fill="#0000ff" d="M225 53h2v1h1v1h1v2h-1v1h-1v1h-2v-1h-1v-1h-1v-2h1v-1h1z"/>
<path fill="#0000ff" d="M233 70h2v1h1v1h1v2h-1v1h-1v1h-2v-1h-1v-1h-1v-2h1v-1h1z"/>
<path fill="#0000ff" d="M241 94h2v1h1v1h1v2h-1v1h-1v1h-2v-1h-1v-1h-1v-2h1v-1h1z"/>
<path fill="#0000ff" d="M249 94h2v1h1v1h1v2h-1v1h-1v1h-2v-1h-1v-1h-1v-2h1v-1h1z"/>
<path fill="#0000ff" d="M257 105h2v1h1v1h1v2h-1v1h-1v1h-2v-1h-1v-1h-1v-2h1v-1h1z"/>
<path fill="#0000ff" d="M265 98h2v1h1v1h1v2h-1v1h-1v1h-2v-1h-1v-1h-1v-2h1v-1h1z"/>
<path fill="#0000ff" d="M273 88h2v1h1v1h1v2h-1v1h-1v1h-2v-1h-1v-1h-1v-2h1v-1h1z"/>
<path fill="#0000ff" d="M281 95h2v1h1v1h1v2h-1v1h-1v1h-2v-1h-1v-1h-1v-2h1v-1h1z"/>
<path fill="#0000ff" d="M289 118h2v1h1v1h1v2h-1v1h-1v1h-2v-1h-1v-1h-1v-2h1v-1h1z"/>
<path fill="#0000ff" d="M297 70h2v1h1v1h1v2h-1v1h-1v1h-2v-1h-1v-1h-1v-2h1v-1h1z"/>
<path fill="#0000ff" d="M305 77h2v1h1v1h1v2h-1v1h-1v1h-2v-1h-1v-1h-1v-2h1v-1h1z"/>
<path fill="#0000ff" d="M313 145h2v1h1v1h1v2h-1v1h-1v1h-2v-1h-1v-1h-1v-2h1v-1h1z"/>
<path fill="#0000ff" d="M321 86h2v1h1v1h1v2h-1v1h-1v1h-2v-1h-1v-1h-1v-2h1v-1h1z"/>
<path fill="#0000ff" d="M329 100h2v1h1v1h1v2h-1v1h-1v1h-2v-1h-1v-1h-1v-2h1v-1h1z"/>
<path fill="#ff0000" d="M337 95h2v1h1v1h1v2h-1v1h-1v1h-2v-1h-1v-1h-1v-2h1v-1h1z"/>
<path fill="#0000ff" d="M345 360h2v1h1v1h1v2h-1v1h-1v1h-2v-1h-1v-1h-1v-2h1v-1h1z"/>
<path fill="#0000ff" d="M353 352h2v1h1v1h1v2h-1v1h-1v1h-2v-1h-1v-1h-1v-2h1v-1h1z"/>
<path fill="#0000ff" d="M361 371h2v1h1v1h1v2h-1v1h-1v1h-2v-1h-1v-1h-1v-2h1v-1h1z"/>
<path fill="#0000ff" d="M369 367h2v1h1v1h1v2h-1v1h-1v1h-2v-1h-1v-1h-1v-2h1v-1h1z"/>
<path fill="#0000ff" d="M377 340h2v1h1v1h1v2h-1v1h-1v1h-2v-1h-1v-1h-1v-2h1v-1h1z"/>
<path fill="#0000ff" d="M385 382h2v1h1v1h1v2h-1v1h-1v1h-2v-1h-1v-1h-1v-2h1v-1h1z"/>
<path fill="#0000ff" d="M393 351h2v1h1v1h1v2h-1v1h-1v1h-2v-1h-1v-1h-1v-2h1v-1h1z"/>
<path fill="#0000ff" d="M401 354h2v1h1v1h1v2h-1v1h-1v1h-2v-1h-1v-1h-1v-2h1v-1h1z"/>
<path fill="#0000ff" d="M409 340h2v1h1v1h1v2h-1v1h-1v1h-2v-1h-1v-1h-1v-2h1v-1h1z"/>
<path fill="#0000ff" d="M417 88h2v1h1v1h1v2h-1v1h-1v1h-2v-1h-1v-1h-1v-2h1v-1h1z"/>
<path fill="#0000ff" d="M425 88h2v1h1v1h1v2h-1v1h-1v1h-2v-1h-1v-1h-1v-2h1v-1h1z"/>
<path fill="#0000ff" d="M433 126h2v1h1v1h1v2h-1v1h-1v1h-2v-1h-1v-1h-1v-2h1v-1h1z"/>
<path fill="#0000ff" d="M441 83h2v1h1v1h1v2h-1v1h-1v1h-2v-1h-1v-1h-1v-2h1v-1h1z"/>
<path fill="#0000ff" d="M449 143h2v1h1v1h1v2h-1v1h-1v1h-2v-1h-1v-1h-1v-2h1v-1h1z"/>
<path fill="#0000ff" d="M457 148h2v1h1v1h1v2h-1v1h-1v1h-2v-1h-1v-1h-1v-2h1v-1h1z"/>
<path fill="#0000ff" d="M465 101h2v1h1v1h1v2h-1v1h-1v1h-2v-1h-1v-1h-1v-2h1v-1h1z"/>
<path fill="#0000ff" d="M473 59h2v1h1v1h1v2h-1v1h-1v1h-2v-1h-1v-1h-1v-2h1v-1h1z"/>
<path fill="#0000ff" d="M481 105h2v1h1v1h1v2h-1v1h-1v1h-2v-1h-1v-1h-1v-2h1v-1h1z"/>
<path fill="#0000ff" d="M489 91h2v1h1v1h1v2h-1v1h-1v1h-2v-1h-1v-1h-1v-2h1v-1h1z"/>
<path fill="#0000ff" d="M497 111h2v1h1v1h1v2h-1v1h-1v1h-2v-1h-1v-1h-1v-2h1v-1h1z"/>
<path fill="#0000ff" d="M505 118h2v1h1v1h1v2h-1v1h-1v1h-2v-1h-1v-1h-1v-2h1v-1h1z"/>
<path fill="#0000ff" d="M513 104h2v1h1v1h1v2h-1v1h-1v1h-2v-1h-1v-1h-1v-2h1v-1h1z"/>
<path fill="#0000ff" d="M521 79h2v1h1v1h1v2h-1v1h-1v1h-2v-1h-1v-1h-1v-2h1v-1h1z"/>
<path fill="#0000ff" d="M529 87h2v1h1v1h1v2h-1v1h-1v1h-2v-1h-1v-1h-1v-2h1v-1h1z"/>
<path fill="#0000ff" d="M537 74h2v1h1v1h1v2h-1v1h-1v1h-2v-1h-1v-1h-1v-2h1v-1h1z"/>
<path fill="#0000ff" d="M545 102h2v1h1v1h1v2h-1v1h-1v1h-2v-1h-1v-1h-1v-2h1v-1h1z"/>
<path fill="#0000ff" d="M553 108h2v1h1v1h1v2h-1v1h-1v1h-2v-1h-1v-1h-1v-2h1v-1h1z"/>
<path fill="#0000ff" d="M561 126h2v1h1v1h1v2h-1v1h-1v1h-2v-1h-1v-1h-1v-2h1v-1h1z"/>
<path fill="#0000ff" d="M569 114h2v1h1v1h1v2h-1v1h-1v1h-2v-1h-1v-1h-1v-2h1v-1h1z"/>
<path fill="#0000ff" d="M577 101h2v1h1v1h1v2h-1v1h-1v1h-2v-1h-1v-1h-1v-2h1v-1h1z"/>
<path fill="#0000ff" d="M585 129h2v1h1v1h1v2h-1v1h-1v1h-2v-1h-1v-1h-1v-2h1v-1h1z"/>
<path fill="#0000ff" d="M593 128h2v1h1v1h1v2h-1v1h-1v1h-2v-1h-1v-1h-1v-2h1v-1h1z"/>
<path fill="#0000ff" d="M601 93h2v1h1v1h1v2h-1v1h-1v1h-2v-1h-1v-1h-1v-2h1v-1h1z"/>
<path fill="#0000ff" d="M609 100h2v1h1v1h1v2h-1v1h-1v1h-2v-1h-1v-1h-1v-2h1v-1h1z"/>
<path fill="#0000ff" d="M617 111h2v1h1v1h1v2h-1v1h-1v1h-2v-1h-1v-1h-1v-2h1v-1h1z"/>
<path fill="#0000ff" d="M625 82h2v1h1v1h1v2h-1v1h-1v1h-2v-1h-1v-1h-1v-2h1v-1h1z"/>
<path fill="#0000ff" d="M633 114h2v1h1v1h1v2h-1v1h-1v1h-2v-1h-1v-1h-1v-2h1v-1h1z"/>
<path fill="#0000ff" d="M641 93h2v1h1v1h1v2h-1v1h-1v1h-2v-1h-1v-1h-1v-2h1v-1h1z"/>
<path fill="#0000ff" d="M649 120h2v1h1v1h1v2h-1v1h-1v1h-2v-1h-1v-1h-1v-2h1v-1h1z"/>
<path fill="#0000ff" d="M657 104h2v1h1v1h1v2h-1v1h-1v1h-2v-1h-1v-1h-1v-2h1v-1h1z"/>
<path fill="#0000ff" d="M665 119h2v1h1v1h1v2h-1v1h-1v1h-2v-1h-1v-1h-1v-2h1v-1h1z"/>
<path fill="#0000ff" d="M673 95h2v1h1v1h1v2h-1v1h-1v1h-2v-1h-1v-1h-1v-2h1v-1h1z"/>
<path fill="#0000ff" d="M681 114h2v1h1v1h1v2h-1v1h-1v1h-2v-1h-1v-1h-1v-2h1v-1h1z"/>
<path fill="#0000ff" d="M689 110h2v1h1v1h1v2h-1v1h-1v1h-2v-1h-1v-1h-1v-2h1v-1h1z"/>
<path fill="#0000ff" d="M697 96h2v1h1v1h1v2h-1v1h-1v1h-2v-1h-1v-1h-1v-2h1v-1h1z"/>
<path fill="#0000ff" d="M705 119h2v1h1v1h1v2h-1v1h-1v1h-2v-1h-1v-1h-1v-2h1v-1h1z"/>
<path fill="#0000ff" d="M713 99h2v1h1v1h1v2h-1v1h-1v1h-2v-1h-1v-1h-1v-2h1v-1h1z"/>
<path fill="#0000ff" d="M721 117h2v1h1v1h1v2h-1v1h-1v1h-2v-1h-1v-1h-1v-2h1v-1h1z"/>
<path fill="#000" d="M581 13h1v1h-1zM582 11h1v2h-1zM583 9h1v2h-1zM584 7h1v2h-1zM585 5h1v2h-1zM586 4h1v1h-1zM716 13h1v1h-1zM717 11h1v2h-1zM718 9h1v2h-1zM719 7h1v2h-1zM720 5h1v2h-1zM721 4h1v1h-1zM84 416h1v1h-1zM85 414h1v2h-1zM86 412h1v2h-1zM87 410h1v2h-1zM88 408h1v2h-1zM89 407h1v1h-1zM165 416h1v1h-1zM166 414h1v2h-1zM167 412h1v2h-1zM168 410h1v2h-1zM169 408h1v2h-1zM170 407h1v1h-1z"/>
<g font-family="'Liberation Sans', sans-serif" font-size="13" fill="#000" stroke="#000" stroke-width="0.3" shape-rendering="auto" text-rendering="geometricPrecision">
<text transform="translate(8.69 14) scale(0.8255 1)" style="letter-spacing:1.1px" font-weight="bold" stroke-width="0.45">2025</text>
<text transform="translate(41.7 14) scale(0.8333 1)" style="letter-spacing:1.1px" font-weight="bold" stroke-width="0.45">Dec</text>
<text transform="translate(70.52 14) scale(0.7456 1)" style="letter-spacing:1.1px" font-weight="bold" stroke-width="0.45">12;</text>
<text transform="translate(90.33 14) scale(0.881 1)" style="letter-spacing:1.1px" font-weight="bold" stroke-width="0.45">(92167)</text>
<text transform="translate(143.01 14) scale(0.7726 1)" style="letter-spacing:1.1px" font-weight="bold" stroke-width="0.45">1999</text>
<text transform="translate(174.01 14) scale(0.832 1)" style="letter-spacing:1.1px" font-weight="bold" stroke-width="0.45">XG166</text>
<text transform="translate(216.7 14) scale(0.837 1)" style="letter-spacing:1.1px" font-weight="bold" stroke-width="0.45">occults</text>
<text transform="translate(266.03 14) scale(0.8787 1)" style="letter-spacing:1.1px" font-weight="bold" stroke-width="0.45">TYC</text>
<text transform="translate(296.98 14) scale(0.8775 1)" style="letter-spacing:1.1px" font-weight="bold" stroke-width="0.45">2910-01389-1</text>
<text transform="translate(385.0 14) scale(0.8108 1)" style="letter-spacing:1.1px" font-weight="bold" stroke-width="0.45">Observed</text>
<text transform="translate(445.39 14) scale(0.8204 1)" style="letter-spacing:1.1px" font-weight="bold" stroke-width="0.45">by</text>
<text transform="translate(465.72 14) scale(0.8021 1)" style="letter-spacing:1.1px" font-weight="bold" stroke-width="0.45">Katsuhiko</text>
<text transform="translate(529.8 14) scale(0.8257 1)" style="letter-spacing:1.1px" font-weight="bold" stroke-width="0.45">Kitazaki</text>
<text transform="translate(591.17 14) scale(0.7901 1)" style="letter-spacing:0.85px">PSF-Frame</text>
<text transform="translate(654.31 14) scale(0.7552 1)" style="letter-spacing:0.85px">Photometry</text>
<text transform="translate(8.12 417) scale(0.7406 1)" style="letter-spacing:0.85px">Exp=76.5msec</text>
<text transform="translate(94.11 417) scale(0.7552 1)" style="letter-spacing:0.85px">Frm</text>
<text transform="translate(118.36 417) scale(0.7002 1)" style="letter-spacing:0.85px">No.271.0</text>
<text transform="translate(174.11 417) scale(0.7552 1)" style="letter-spacing:0.85px">Frm</text>
<text transform="translate(198.31 417) scale(0.7507 1)" style="letter-spacing:0.85px">Mid=</text>
<text transform="translate(227.38 417) scale(0.7204 1)" style="letter-spacing:0.85px">18h59m21.0773s,</text>
<text transform="translate(318.83 417) scale(0.7346 1)" style="letter-spacing:0.85px">End=</text>
<text transform="translate(348.71 417) scale(0.7344 1)" style="letter-spacing:0.85px">21.1156s</text>
<text transform="translate(16.87 209) scale(0.7274 1)" style="letter-spacing:0.85px">1000</text>
<text transform="translate(42.85 380) scale(0.6015 1)" style="letter-spacing:0px">0</text>
<text transform="translate(82.5 400) scale(0.7587 1)" style="letter-spacing:0.85px">240</text>
<text transform="translate(322.61 400) scale(0.7454 1)" style="letter-spacing:0.85px">270</text>
<text transform="translate(562.24 400) scale(0.7524 1)" style="letter-spacing:0.85px">300</text>
</g>
</svg>
</body></html>
